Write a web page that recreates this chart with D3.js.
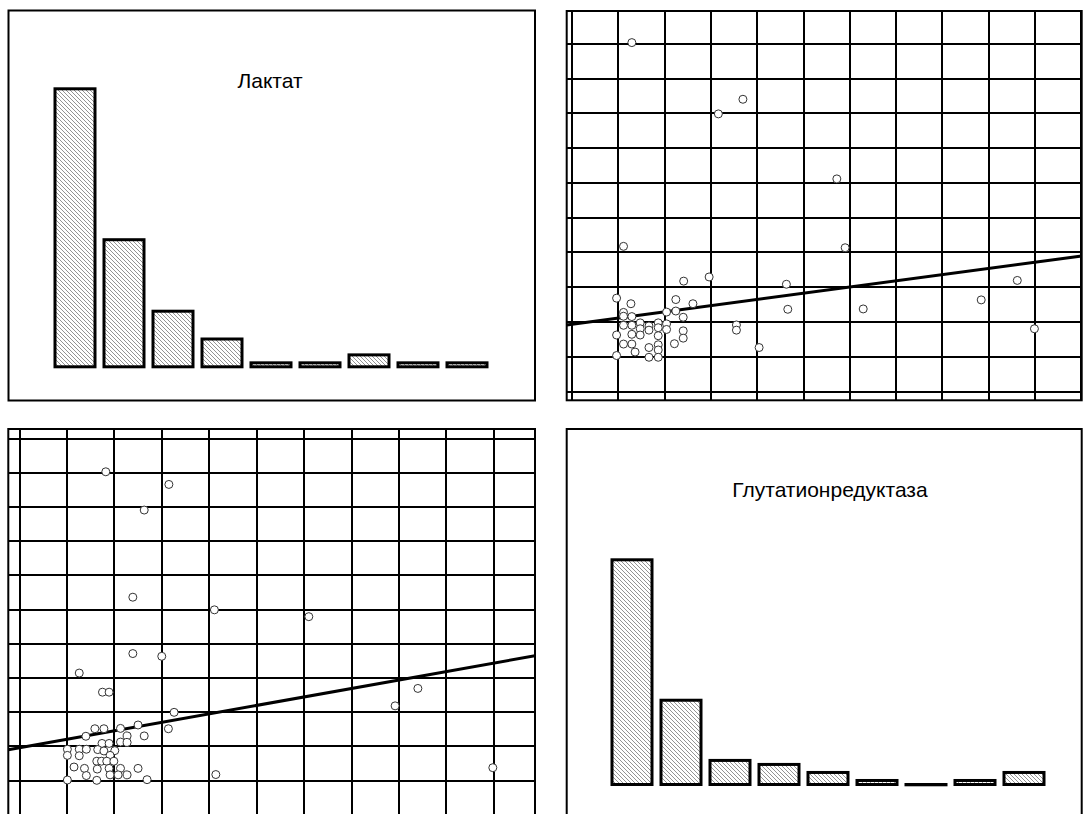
<!DOCTYPE html>
<html>
<head>
<meta charset="utf-8">
<script src="https://cdn.jsdelivr.net/npm/d3@7"></script>
<style>
    body { margin: 0; background: #fff; }
    svg { display: block; }
    .grid-line { stroke: #000; stroke-width: 2; shape-rendering: crispEdges; }
    .title { font-family: "Liberation Sans", Arial, sans-serif; font-size: 21px; fill: #000; }
</style>
</head>
<body>
<svg></svg>
<script>
let width = 1083;
let height = 814;

// гистограммы: частоты по 9 классам
let classes = [1, 2, 3, 4, 5, 6, 7, 8, 9];
let lactateCounts = [70, 32, 14, 7, 1, 1, 3, 1, 1];
let glutCounts = [56, 21, 6, 5, 3, 1, 0, 1, 3];

// диаграмма рассеяния сверху справа (в делениях сетки)
let scatter1X = [1.30, 3.70, 3.17, 5.73, 1.12, 5.91, 2.42, 2.97, 4.64, 9.63,
    0.97, 1.28, 2.25, 2.62, 8.85, 4.67, 6.30, 1.12, 2.05, 2.25,
    1.12, 1.30, 2.41, 10.00, 1.12, 1.30, 1.48, 1.48, 1.67, 1.67,
    1.87, 1.87, 2.05, 2.05, 3.56, 3.56, 0.97, 1.30, 1.48, 1.87,
    2.41, 2.41, 2.22, 1.12, 1.30, 1.37, 1.67, 1.87, 1.87, 4.05,
    0.97, 1.67, 1.87];
let scatter1Y = [10.02, 8.39, 7.97, 6.10, 4.16, 4.12, 3.16, 3.28, 3.07, 3.18,
    2.67, 2.51, 2.63, 2.51, 2.62, 2.35, 2.36, 2.26, 2.27, 2.30,
    2.15, 2.14, 2.12, 1.79, 1.89, 1.89, 1.96, 1.79, 1.87, 1.75,
    1.96, 1.82, 1.93, 1.77, 1.90, 1.75, 1.61, 1.63, 1.61, 1.59,
    1.73, 1.52, 1.36, 1.35, 1.35, 1.12, 1.25, 1.33, 1.18, 1.25,
    1.02, 0.97, 0.97];
let fit1 = {intercept: 1.92, slope: 0.178};

// диаграмма рассеяния снизу слева
let scatter2X = [1.83, 3.16, 2.64, 2.40, 4.12, 6.11, 8.41, 7.93, 9.99, 2.40,
    3.01, 1.27, 1.76, 1.90, 3.27, 1.60, 1.79, 2.14, 2.51, 3.15,
    1.41, 2.28, 2.64, 1.75, 1.90, 2.14, 2.28, 1.02, 1.02, 1.27,
    1.27, 1.42, 1.66, 1.79, 2.02, 1.92, 1.64, 1.74, 1.85, 2.00,
    1.16, 1.38, 1.65, 1.90, 2.14, 2.51, 1.42, 1.92, 2.09, 2.28,
    4.15, 1.02, 1.64, 2.70];
let scatter2Y = [9.02, 8.65, 7.90, 5.35, 4.98, 4.78, 2.68, 2.17, 0.36, 3.70,
    3.62, 3.13, 2.57, 2.57, 1.98, 1.50, 1.50, 1.51, 1.61, 1.50,
    1.28, 1.29, 1.29, 1.07, 1.07, 1.11, 1.10, 0.90, 0.72, 0.90,
    0.71, 0.90, 0.89, 0.85, 0.86, 0.72, 0.55, 0.55, 0.55, 0.55,
    0.38, 0.34, 0.32, 0.34, 0.34, 0.34, 0.13, 0.15, 0.15, 0.15,
    0.16, 0.00, -0.01, 0.01];
let fit2 = {intercept: 0.94, slope: 0.248};

let svg = d3.select("svg")
    .attr("width", width)
    .attr("height", height);

// штриховка для столбцов
let defs = svg.append("defs");
defs.append("pattern")
    .attr("id", "hatch")
    .attr("patternUnits", "userSpaceOnUse")
    .attr("width", 4)
    .attr("height", 4)
    .append("path")
    .attr("d", "M-1,-1 L5,5 M-1,3 L1,5 M3,-1 L5,1")
    .attr("stroke", "#777")
    .attr("stroke-width", 0.8);

drawHisto(svg, classes, lactateCounts, "Лактат",
    {left: 8.5, top: 10.5, right: 535, bottom: 400.5},
    [55, 487], [366.8, 88.8], [270, 88], "hist1");

drawScatter(svg, scatter1X, scatter1Y, fit1,
    {left: 566.7, top: 11, right: 1081.7, bottom: 400.3},
    [0, 11], [571.7, 1080.7], [0, 10], [391, 43.3], "sc1");

drawScatter(svg, scatter2X, scatter2Y, fit2,
    {left: 8.3, top: 429, right: 535, bottom: 830},
    [0, 10], [19, 493.3], [0, 10], [780, 438.3], "sc2");

drawHisto(svg, classes, glutCounts, "Глутатионредуктаза",
    {left: 566.7, top: 429, right: 1081.7, bottom: 830},
    [612, 1044], [784.5, 559.8], [830, 497], "hist2");

function drawHisto(svg, cats, counts, title, frame, xRange, yRange, titlePos, id) {
    let g = svg.append("g").attr("id", id);

    g.append("rect")
        .attr("x", frame.left)
        .attr("y", frame.top)
        .attr("width", frame.right - frame.left)
        .attr("height", frame.bottom - frame.top)
        .attr("fill", "none")
        .attr("stroke", "#000")
        .attr("stroke-width", 2);

    let scaleX = d3.scaleBand()
        .domain(cats)
        .range(xRange)
        .paddingInner(9 / 49)
        .paddingOuter(0);

    let scaleY = d3.scaleLinear()
        .domain([0, d3.max(counts)])
        .range(yRange);

    g.selectAll(".bar")
        .data(counts)
        .enter()
        .append("rect")
        .attr("class", "bar")
        .attr("x", (d, i) => scaleX(cats[i]))
        .attr("width", scaleX.bandwidth())
        .attr("y", d => scaleY(d))
        .attr("height", d => Math.max(scaleY(0) - scaleY(d), 0.3))
        .attr("fill", "url(#hatch)")
        .attr("stroke", "#000")
        .attr("stroke-width", 3);

    g.append("text")
        .attr("class", "title")
        .attr("x", titlePos[0])
        .attr("y", titlePos[1])
        .attr("text-anchor", "middle")
        .text(title);
}

function drawScatter(svg, xs, ys, fit, frame, xDomain, xRange, yDomain, yRange, id) {
    let g = svg.append("g").attr("id", id);

    let scaleX = d3.scaleLinear().domain(xDomain).range(xRange);
    let scaleY = d3.scaleLinear().domain(yDomain).range(yRange);

    g.append("clipPath")
        .attr("id", id + "-clip")
        .append("rect")
        .attr("x", frame.left)
        .attr("y", frame.top)
        .attr("width", frame.right - frame.left)
        .attr("height", frame.bottom - frame.top);

    // вертикальные линии сетки
    let axisX = d3.axisBottom(scaleX)
        .tickValues(d3.range(xDomain[0], xDomain[1] + 1))
        .tickSize(-(frame.bottom - frame.top))
        .tickFormat("");
    let gx = g.append("g")
        .attr("transform", `translate(0, ${frame.bottom})`)
        .call(axisX);
    gx.select(".domain").remove();
    gx.selectAll("line").attr("class", "grid-line");

    // горизонтальные линии сетки
    let axisY = d3.axisLeft(scaleY)
        .tickValues(d3.range(yDomain[0], yDomain[1] + 1))
        .tickSize(-(frame.right - frame.left))
        .tickFormat("");
    let gy = g.append("g")
        .attr("transform", `translate(${frame.left}, 0)`)
        .call(axisY);
    gy.select(".domain").remove();
    gy.selectAll("line").attr("class", "grid-line");

    g.append("rect")
        .attr("x", frame.left)
        .attr("y", frame.top)
        .attr("width", frame.right - frame.left)
        .attr("height", frame.bottom - frame.top)
        .attr("fill", "none")
        .attr("stroke", "#000")
        .attr("stroke-width", 2);

    // линия регрессии
    let x0 = scaleX.invert(frame.left);
    let x1 = scaleX.invert(frame.right);
    let line = d3.line()
        .x(d => scaleX(d))
        .y(d => scaleY(fit.intercept + fit.slope * d));
    g.append("path")
        .attr("clip-path", `url(#${id}-clip)`)
        .attr("d", line([x0, x1]))
        .attr("fill", "none")
        .attr("stroke", "#000")
        .attr("stroke-width", 3);

    g.selectAll(".dot")
        .data(xs)
        .enter()
        .append("circle")
        .attr("class", "dot")
        .attr("r", 4)
        .attr("cx", d => scaleX(d))
        .attr("cy", (d, i) => scaleY(ys[i]))
        .attr("fill", "#fff")
        .attr("stroke", "#333")
        .attr("stroke-width", 1);
}
</script>
</body>
</html>
